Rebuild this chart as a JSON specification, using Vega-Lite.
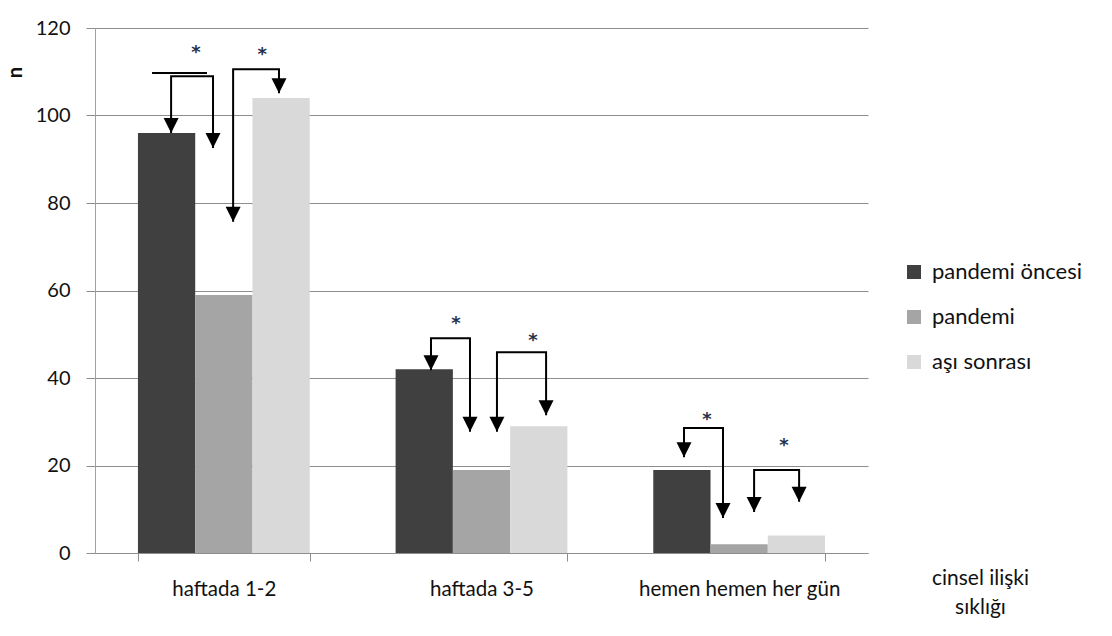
{
  "$schema": "https://vega.github.io/schema/vega-lite/v6.json",
  "width": 773,
  "height": 525,
  "autosize": {"type": "none"},
  "padding": {"left": 95, "top": 28, "right": 244, "bottom": 83},
  "background": "white",
  "config": {"view": {"stroke": null}, "font": "Lato"},
  "datasets": {
    "cubuklar": [
      {"kategori": "haftada 1-2", "seri": "pandemi öncesi", "deger": 96},
      {"kategori": "haftada 1-2", "seri": "pandemi", "deger": 59},
      {"kategori": "haftada 1-2", "seri": "aşı sonrası", "deger": 104},
      {"kategori": "haftada 3-5", "seri": "pandemi öncesi", "deger": 42},
      {"kategori": "haftada 3-5", "seri": "pandemi", "deger": 19},
      {"kategori": "haftada 3-5", "seri": "aşı sonrası", "deger": 29},
      {"kategori": "hemen hemen her gün", "seri": "pandemi öncesi", "deger": 19},
      {"kategori": "hemen hemen her gün", "seri": "pandemi", "deger": 2},
      {"kategori": "hemen hemen her gün", "seri": "aşı sonrası", "deger": 4}
    ],
    "oklar": [
      {"kategori": "haftada 1-2", "ok": "a0", "sira": 1, "konum": 0.082, "deger": 109.7, "uc": false},
      {"kategori": "haftada 1-2", "ok": "a0", "sira": 2, "konum": 0.402, "deger": 109.7, "uc": false},
      {"kategori": "haftada 1-2", "ok": "a1", "sira": 1, "konum": 0.193, "deger": 96.0, "uc": true},
      {"kategori": "haftada 1-2", "ok": "a1", "sira": 2, "konum": 0.193, "deger": 109.0, "uc": false},
      {"kategori": "haftada 1-2", "ok": "a1", "sira": 3, "konum": 0.437, "deger": 109.0, "uc": false},
      {"kategori": "haftada 1-2", "ok": "a1", "sira": 4, "konum": 0.437, "deger": 92.6, "uc": true},
      {"kategori": "haftada 1-2", "ok": "a2", "sira": 1, "konum": 0.554, "deger": 75.7, "uc": true},
      {"kategori": "haftada 1-2", "ok": "a2", "sira": 2, "konum": 0.554, "deger": 110.6, "uc": false},
      {"kategori": "haftada 1-2", "ok": "a2", "sira": 3, "konum": 0.821, "deger": 110.6, "uc": false},
      {"kategori": "haftada 1-2", "ok": "a2", "sira": 4, "konum": 0.821, "deger": 105.1, "uc": true},
      {"kategori": "haftada 3-5", "ok": "b1", "sira": 1, "konum": 0.206, "deger": 41.8, "uc": true},
      {"kategori": "haftada 3-5", "ok": "b1", "sira": 2, "konum": 0.206, "deger": 49.1, "uc": false},
      {"kategori": "haftada 3-5", "ok": "b1", "sira": 3, "konum": 0.433, "deger": 49.1, "uc": false},
      {"kategori": "haftada 3-5", "ok": "b1", "sira": 4, "konum": 0.433, "deger": 27.7, "uc": true},
      {"kategori": "haftada 3-5", "ok": "b2", "sira": 1, "konum": 0.590, "deger": 27.7, "uc": true},
      {"kategori": "haftada 3-5", "ok": "b2", "sira": 2, "konum": 0.590, "deger": 45.9, "uc": false},
      {"kategori": "haftada 3-5", "ok": "b2", "sira": 3, "konum": 0.876, "deger": 45.9, "uc": false},
      {"kategori": "haftada 3-5", "ok": "b2", "sira": 4, "konum": 0.876, "deger": 31.5, "uc": true},
      {"kategori": "hemen hemen her gün", "ok": "c1", "sira": 1, "konum": 0.179, "deger": 21.9, "uc": true},
      {"kategori": "hemen hemen her gün", "ok": "c1", "sira": 2, "konum": 0.179, "deger": 28.6, "uc": false},
      {"kategori": "hemen hemen her gün", "ok": "c1", "sira": 3, "konum": 0.406, "deger": 28.6, "uc": false},
      {"kategori": "hemen hemen her gün", "ok": "c1", "sira": 4, "konum": 0.406, "deger": 8.0, "uc": true},
      {"kategori": "hemen hemen her gün", "ok": "c2", "sira": 1, "konum": 0.587, "deger": 9.4, "uc": true},
      {"kategori": "hemen hemen her gün", "ok": "c2", "sira": 2, "konum": 0.587, "deger": 19.0, "uc": false},
      {"kategori": "hemen hemen her gün", "ok": "c2", "sira": 3, "konum": 0.849, "deger": 19.0, "uc": false},
      {"kategori": "hemen hemen her gün", "ok": "c2", "sira": 4, "konum": 0.849, "deger": 11.7, "uc": true}
    ],
    "yildizlar": [
      {"kategori": "haftada 1-2", "konum": 0.338, "deger": 115.4, "etiket": "*"},
      {"kategori": "haftada 1-2", "konum": 0.723, "deger": 115.0, "etiket": "*"},
      {"kategori": "haftada 3-5", "konum": 0.352, "deger": 53.5, "etiket": "*"},
      {"kategori": "haftada 3-5", "konum": 0.800, "deger": 49.6, "etiket": "*"},
      {"kategori": "hemen hemen her gün", "konum": 0.313, "deger": 31.5, "etiket": "*"},
      {"kategori": "hemen hemen her gün", "konum": 0.761, "deger": 25.6, "etiket": "*"}
    ]
  },
  "encoding": {
    "x": {
      "field": "kategori",
      "type": "nominal",
      "sort": ["haftada 1-2", "haftada 3-5", "hemen hemen her gün"],
      "scale": {"paddingInner": 0.3333, "paddingOuter": 0.1667},
      "title": ["cinsel ilişki", "sıklığı"],
      "axis": {
        "labelAngle": 0,
        "labelFontSize": 20.5,
        "labelLimit": 0,
        "labelColor": "#111111",
        "labelPadding": 18,
        "domainColor": "#8e8e8e",
        "tickColor": "#8e8e8e",
        "tickSize": 8,
        "tickBand": "extent",
        "titleFontSize": 21,
        "titleFontWeight": "normal",
        "titleColor": "#111111",
        "titleX": 885,
        "titleY": 14,
        "titleAlign": "center",
        "titleBaseline": "top",
        "titleLineHeight": 29
      }
    },
    "y": {
      "field": "deger",
      "type": "quantitative",
      "scale": {"domain": [0, 120], "nice": false},
      "title": "n",
      "axis": {
        "values": [0, 20, 40, 60, 80, 100, 120],
        "labelFontSize": 20,
        "labelColor": "#111111",
        "labelPadding": 16,
        "tickSize": 9,
        "tickColor": "#8e8e8e",
        "domainColor": "#a0a0a0",
        "grid": true,
        "gridColor": "#8e8e8e",
        "titleFontSize": 20,
        "titleFontWeight": "bold",
        "titleColor": "#111111",
        "titleAngle": -90,
        "titleX": -80,
        "titleY": 44,
        "titleAlign": "center",
        "titleBaseline": "middle"
      }
    }
  },
  "layer": [
    {
      "data": {"name": "cubuklar"},
      "mark": {"type": "bar"},
      "encoding": {
        "xOffset": {
          "field": "seri",
          "type": "nominal",
          "sort": ["pandemi öncesi", "pandemi", "aşı sonrası"],
          "scale": {"paddingInner": 0, "paddingOuter": 0}
        },
        "color": {
          "field": "seri",
          "type": "nominal",
          "scale": {
            "domain": ["pandemi öncesi", "pandemi", "aşı sonrası"],
            "range": ["#404040", "#a5a5a5", "#d9d9d9"]
          },
          "legend": {
            "orient": "none",
            "legendX": 808,
            "legendY": 233,
            "title": null,
            "padding": 0,
            "symbolType": "square",
            "symbolSize": 196,
            "symbolStrokeWidth": 0,
            "labelFontSize": 22,
            "labelColor": "#111111",
            "labelOffset": 7,
            "rowPadding": 23
          }
        }
      }
    },
    {
      "data": {"name": "oklar"},
      "mark": {"type": "line", "color": "#000000", "strokeWidth": 2},
      "encoding": {
        "xOffset": {"field": "konum", "type": "quantitative", "scale": {"domain": [0, 1], "nice": false, "zero": false}},
        "detail": {"field": "ok"},
        "order": {"field": "sira"}
      }
    },
    {
      "data": {"name": "oklar"},
      "transform": [{"filter": "datum.uc"}],
      "mark": {"type": "point", "shape": "M-1,-2L1,-2L0,0Z", "filled": true, "color": "#000000", "opacity": 1, "size": 225, "strokeWidth": 0},
      "encoding": {
        "xOffset": {"field": "konum", "type": "quantitative", "scale": {"domain": [0, 1], "nice": false, "zero": false}}
      }
    },
    {
      "data": {"name": "yildizlar"},
      "mark": {"type": "text", "font": "DejaVu Sans", "fontSize": 18, "fontWeight": "bold", "color": "#27304a", "baseline": "alphabetic", "dy": 10},
      "encoding": {
        "xOffset": {"field": "konum", "type": "quantitative", "scale": {"domain": [0, 1], "nice": false, "zero": false}},
        "text": {"field": "etiket"}
      }
    }
  ],
  "resolve": {"scale": {"xOffset": "independent"}}
}
